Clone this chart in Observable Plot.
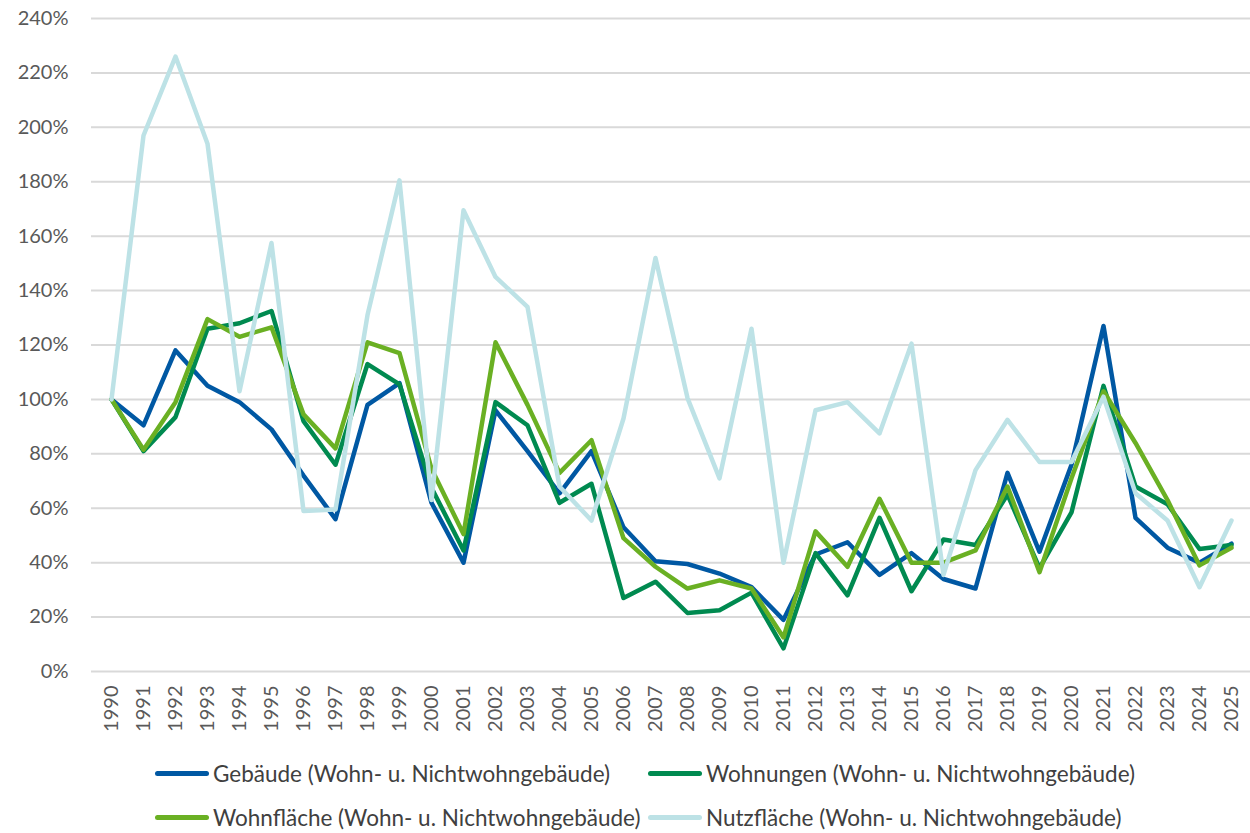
<!DOCTYPE html>
<html>
<head>
<meta charset="utf-8">
<script src="https://cdn.jsdelivr.net/npm/d3@7"></script>
<script src="https://cdn.jsdelivr.net/npm/@observablehq/plot@0.6"></script>
<style>
  body { margin: 0; background: #fff; font-family: Lato, "Open Sans", sans-serif; }
  #chart { width: 1250px; }
  #legend { position: relative; width: 1250px; height: 83px; }
  .item { position: absolute; display: flex; align-items: center; height: 28px; font-size: 22.5px; color: #404040; white-space: nowrap; }
  .sw { width: 54px; height: 5px; border-radius: 3px; margin-right: 4px; }
</style>
</head>
<body>
<div id="chart"></div>
<div id="legend"></div>
<script>
const years = [1990,1991,1992,1993,1994,1995,1996,1997,1998,1999,2000,2001,2002,2003,2004,2005,2006,2007,2008,2009,2010,2011,2012,2013,2014,2015,2016,2017,2018,2019,2020,2021,2022,2023,2024,2025];

const gebaeude    = [100, 90.5, 118, 105, 99, 89, 72, 56, 98, 106, 62, 40, 96, 81, 65.5, 81, 53, 40.5, 39.5, 36, 31, 19, 43, 47.5, 35.5, 43.5, 34, 30.5, 73, 44, 76, 127, 56.5, 45.5, 40, 47];
const wohnungen   = [100, 81, 93.5, 126, 128, 132.5, 92, 76, 113, 105.5, 67.5, 44.5, 99, 90.5, 62, 69, 27, 33, 21.5, 22.5, 29, 8.5, 43.5, 28, 56.5, 29.5, 48.5, 46.5, 65, 38, 58.5, 105, 68, 61.5, 45, 46.5];
const wohnflaeche = [100, 81.5, 99, 129.5, 123, 126.5, 94.5, 82, 121, 117, 74.5, 50.5, 121, 98, 73, 85, 49, 38.5, 30.5, 33.5, 30.5, 12.5, 51.5, 38.5, 63.5, 40, 40, 44.5, 68, 36.5, 71, 103, 84, 63, 39, 45.5];
const nutzflaeche = [100, 197, 226, 194, 103, 157.5, 59, 59.5, 131, 180.5, 63, 169.5, 145, 134, 68, 55.5, 93, 152, 100.5, 71, 126, 40, 96, 99, 87.5, 120.5, 35.5, 74, 92.5, 77, 77, 101, 65.5, 55.5, 31, 55.5];

const seriesNames = [
  "Gebäude (Wohn- u. Nichtwohngebäude)",
  "Wohnungen (Wohn- u. Nichtwohngebäude)",
  "Wohnfläche (Wohn- u. Nichtwohngebäude)",
  "Nutzfläche (Wohn- u. Nichtwohngebäude)"
];
const seriesColors = ["#0058a3", "#008a50", "#6ab023", "#bde2e6"];
const yTicks = [0, 20, 40, 60, 80, 100, 120, 140, 160, 180, 200, 220, 240];

const seriesValues = [gebaeude, wohnungen, wohnflaeche, nutzflaeche];
const rows = [];
seriesValues.forEach((vals, s) => {
  vals.forEach((v, i) => rows.push({ series: seriesNames[s], year: years[i], value: v }));
});

const chart = Plot.plot({
  width: 1250,
  height: 750,
  marginLeft: 91,
  marginRight: 0,
  marginTop: 18,
  marginBottom: 79,
  style: { fontFamily: "Lato, 'Open Sans', sans-serif", fontSize: "20px", color: "#595959", background: "#fff" },
  x: { type: "point", domain: years, padding: 0.5, label: null },
  y: { domain: [0, 240], label: null },
  color: { domain: seriesNames, range: seriesColors },
  marks: [
    Plot.ruleY(yTicks, { stroke: "#d9d9d9", strokeWidth: 2 }),
    Plot.axisY({ ticks: yTicks, tickSize: 0, tickPadding: 23, tickFormat: d => d + "%", label: null }),
    Plot.axisX({ tickSize: 0, tickPadding: 14, tickRotate: -90, tickFormat: d => String(d), label: null }),
    Plot.line(rows, { x: "year", y: "value", z: "series", stroke: "series", strokeWidth: 4.5, strokeLinejoin: "round", strokeLinecap: "round" })
  ]
});
document.getElementById("chart").appendChild(chart);

const legendPos = [
  { left: 155, top: 9 },
  { left: 648, top: 9 },
  { left: 155, top: 53 },
  { left: 648, top: 53 }
];
const legend = document.getElementById("legend");
seriesNames.forEach((name, i) => {
  const it = document.createElement("div");
  it.className = "item";
  it.style.left = legendPos[i].left + "px";
  it.style.top = legendPos[i].top + "px";
  const sw = document.createElement("span");
  sw.className = "sw";
  sw.style.background = seriesColors[i];
  const tx = document.createElement("span");
  tx.textContent = name;
  it.appendChild(sw);
  it.appendChild(tx);
  legend.appendChild(it);
});
</script>
</body>
</html>
